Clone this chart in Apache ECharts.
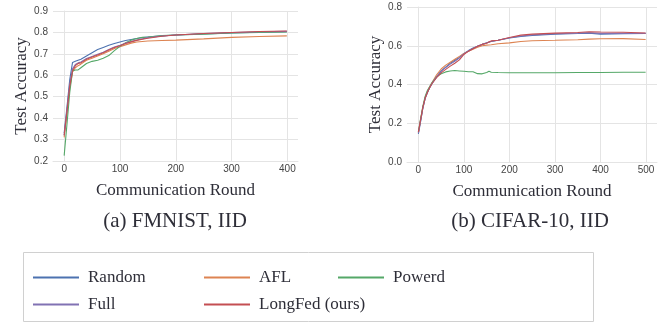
<!DOCTYPE html>
<html><head><meta charset="utf-8">
<script src="https://cdn.jsdelivr.net/npm/echarts@6/dist/echarts.min.js"></script>
<style>html,body{margin:0;padding:0;background:#fff}#c{width:670px;height:324px}</style>
</head><body><div id="c"></div>
<script>
// ---------- DATA ----------
const seriesNames = ['Random', 'AFL', 'Powerd', 'Full', 'LongFed (ours)'];
const colors = ['#4C72B0', '#DD8452', '#55A868', '#8172B3', '#C44E52'];

// (a) FMNIST, IID
const roundsA = [0,5,10,15,20,25,30,40,50,60,70,80,90,100,110,120,130,140,150,175,200,250,300,350,399];
const randomA = [0.33,0.45,0.58,0.66,0.665,0.67,0.675,0.69,0.705,0.72,0.73,0.74,0.748,0.755,0.762,0.767,0.772,0.776,0.779,0.784,0.788,0.793,0.798,0.801,0.803];
const aflA    = [0.31,0.42,0.54,0.615,0.635,0.645,0.652,0.67,0.68,0.69,0.70,0.712,0.725,0.733,0.742,0.75,0.755,0.758,0.76,0.762,0.764,0.77,0.777,0.781,0.784];
const powerdA = [0.225,0.37,0.52,0.62,0.625,0.625,0.635,0.655,0.665,0.67,0.68,0.692,0.715,0.735,0.752,0.764,0.772,0.777,0.779,0.785,0.788,0.792,0.797,0.80,0.802];
const fullA   = [0.32,0.44,0.56,0.63,0.65,0.658,0.662,0.678,0.688,0.698,0.708,0.72,0.732,0.74,0.75,0.758,0.765,0.77,0.775,0.783,0.788,0.795,0.80,0.803,0.805];
const longA   = [0.32,0.43,0.55,0.62,0.645,0.655,0.658,0.675,0.685,0.695,0.705,0.718,0.73,0.738,0.748,0.756,0.763,0.768,0.773,0.782,0.788,0.795,0.80,0.804,0.807];

// (b) CIFAR-10, IID
const roundsB = [0,5,10,15,20,25,30,40,50,60,70,80,90,100,110,120,130,140,150,155,160,175,200,225,250,300,350,375,400,450,499];
const randomB = [0.145,0.21,0.28,0.33,0.36,0.385,0.405,0.44,0.47,0.49,0.51,0.525,0.54,0.56,0.575,0.588,0.598,0.607,0.615,0.619,0.622,0.628,0.64,0.648,0.653,0.66,0.663,0.665,0.66,0.662,0.663];
const aflB    = [0.15,0.22,0.285,0.335,0.365,0.39,0.41,0.45,0.48,0.50,0.515,0.53,0.545,0.56,0.572,0.582,0.592,0.60,0.603,0.604,0.605,0.61,0.615,0.622,0.626,0.628,0.631,0.634,0.636,0.637,0.632];
const powerdB = [0.155,0.225,0.29,0.34,0.37,0.39,0.41,0.44,0.455,0.465,0.47,0.472,0.47,0.468,0.466,0.466,0.456,0.455,0.462,0.468,0.463,0.462,0.461,0.461,0.461,0.461,0.462,0.462,0.462,0.463,0.463];
const fullB   = [0.15,0.215,0.28,0.33,0.36,0.385,0.405,0.44,0.468,0.488,0.505,0.52,0.537,0.558,0.573,0.586,0.597,0.607,0.614,0.618,0.623,0.628,0.641,0.65,0.656,0.662,0.665,0.667,0.664,0.664,0.664];
const longB   = [0.155,0.22,0.285,0.33,0.36,0.385,0.405,0.435,0.46,0.478,0.495,0.51,0.527,0.555,0.572,0.585,0.597,0.607,0.613,0.62,0.625,0.628,0.643,0.655,0.66,0.665,0.668,0.672,0.671,0.67,0.666];

const xTicksA = [0,100,200,300,400];
const yTicksA = [0.2,0.3,0.4,0.5,0.6,0.7,0.8,0.9];
const xTicksB = [0,100,200,300,400,500];
const yTicksB = [0.0,0.2,0.4,0.6,0.8];

const titleA = '(a) FMNIST, IID';
const titleB = '(b) CIFAR-10, IID';
const xName = 'Communication Round';
const yName = 'Test Accuracy';

// ---------- CHART ----------
const serif = '"Liberation Serif", "DejaVu Serif", serif';
const sans = '"Liberation Sans", Arial, sans-serif';
const gridColor = '#e4e4e4';

function pairs(xs, ys) { return xs.map((x, i) => [x, ys[i]]); }

function xAxis(gi, min, max, ticks) {
  return {
    type: 'value', gridIndex: gi, min: min, max: max,
    name: xName, nameLocation: 'middle', nameGap: 21,
    nameTextStyle: { fontFamily: serif, fontSize: 17, color: '#2e2e38' },
    axisLine: { show: true, lineStyle: { color: gridColor, width: 1 } },
    axisTick: { show: false, customValues: ticks },
    axisLabel: { customValues: ticks, fontFamily: sans, fontSize: 10, color: '#444', margin: 3 },
    splitLine: { show: true, lineStyle: { color: gridColor, width: 1 } }
  };
}
function yAxis(gi, min, max, ticks) {
  return {
    type: 'value', gridIndex: gi, min: min, max: max,
    name: yName, nameLocation: 'middle', nameGap: 21, nameRotate: 90,
    nameTextStyle: { fontFamily: serif, fontSize: 17, color: '#2e2e38' },
    axisLine: { show: true, lineStyle: { color: gridColor, width: 1 } },
    axisTick: { show: false, customValues: ticks },
    axisLabel: { customValues: ticks, fontFamily: sans, fontSize: 10, color: '#444', margin: 5,
                 formatter: v => v.toFixed(1) },
    splitLine: { show: true, lineStyle: { color: gridColor, width: 1 } }
  };
}

const dataA = [randomA, aflA, powerdA, fullA, longA];
const dataB = [randomB, aflB, powerdB, fullB, longB];
const series = [];
seriesNames.forEach((n, i) => {
  series.push({ name: n, type: 'line', xAxisIndex: 0, yAxisIndex: 0, data: pairs(roundsA, dataA[i]),
    showSymbol: false, symbol: 'none', smooth: false, lineStyle: { width: 1.1, color: colors[i] }, itemStyle: { color: colors[i] } });
});
seriesNames.forEach((n, i) => {
  series.push({ name: n, type: 'line', xAxisIndex: 1, yAxisIndex: 1, data: pairs(roundsB, dataB[i]),
    showSymbol: false, symbol: 'none', smooth: false, lineStyle: { width: 1.1, color: colors[i] }, itemStyle: { color: colors[i] } });
});

const legendPos = [
  { left: 33, top: 269 }, // Random
  { left: 204, top: 269 }, // AFL
  { left: 338, top: 269 }, // Powerd
  { left: 33, top: 296 }, // Full
  { left: 204, top: 296 } // LongFed
];
const legends = seriesNames.map((n, i) => ({
  data: [n], left: legendPos[i].left, top: legendPos[i].top, padding: 0,
  icon: 'rect', itemWidth: 46, itemHeight: 2,
  textStyle: { fontFamily: serif, fontSize: 17, color: '#2e2e38', padding: [0, 0, 0, 4] },
  selectedMode: false
}));

const chart = echarts.init(document.getElementById('c'), null, { renderer: 'canvas' });
chart.setOption({
  animation: false,
  backgroundColor: '#fff',
  grid: [
    { left: 53, top: 11, width: 245, height: 150 },
    { left: 407, top: 7, width: 250, height: 155 }
  ],
  xAxis: [xAxis(0, -20, 419, xTicksA), xAxis(1, -25, 524, xTicksB)],
  yAxis: [yAxis(0, 0.2, 0.9, yTicksA), yAxis(1, 0.0, 0.8, yTicksB)],
  title: [
    { text: titleA, left: 175, top: 211, textAlign: 'center', padding: 0,
      textStyle: { fontFamily: serif, fontSize: 21, fontWeight: 'normal', color: '#2e2e38' } },
    { text: titleB, left: 530, top: 211, textAlign: 'center', padding: 0,
      textStyle: { fontFamily: serif, fontSize: 21, fontWeight: 'normal', color: '#2e2e38' } }
  ],
  legend: legends,
  graphic: [{ type: 'rect', shape: { x: 23.5, y: 252.5, width: 570, height: 69 },
    style: { fill: 'none', stroke: '#d0d0d0', lineWidth: 1 }, silent: true }],
  series: series
});
</script></body></html>
